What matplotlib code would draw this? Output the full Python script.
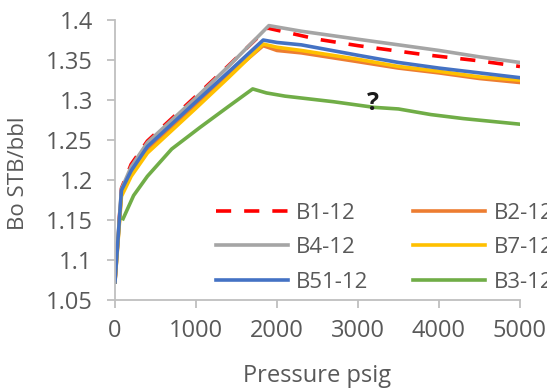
import matplotlib
matplotlib.use('Agg')
import matplotlib.pyplot as plt

plt.rcParams['font.family'] = ['Open Sans', 'DejaVu Sans']

# formation volume factor vs pressure for each sample
p_b1 = [0, 80, 200, 400, 700, 1000, 1400, 1750, 1880, 2500, 3000, 3800, 4500, 5000]
bo_b1 = [1.075, 1.190, 1.220, 1.249, 1.277, 1.305, 1.343, 1.377, 1.390, 1.376, 1.368, 1.357, 1.349, 1.342]

p_b2 = [0, 80, 200, 400, 700, 1000, 1400, 1830, 2000, 2300, 3000, 3500, 4000, 4500, 5000]
bo_b2 = [1.073, 1.185, 1.209, 1.237, 1.265, 1.293, 1.331, 1.368, 1.362, 1.359, 1.348, 1.340, 1.334, 1.327, 1.322]

p_b4 = [0, 80, 200, 400, 700, 1000, 1400, 1900, 2300, 3000, 3500, 4000, 4500, 5000]
bo_b4 = [1.075, 1.189, 1.217, 1.247, 1.275, 1.303, 1.342, 1.393, 1.386, 1.376, 1.369, 1.362, 1.354, 1.347]

p_b7 = [0, 80, 200, 400, 700, 1000, 1400, 1830, 2000, 2300, 3000, 3500, 4000, 4500, 5000]
bo_b7 = [1.073, 1.180, 1.205, 1.234, 1.262, 1.290, 1.328, 1.370, 1.366, 1.362, 1.351, 1.342, 1.336, 1.329, 1.325]

p_b51 = [0, 80, 200, 400, 700, 1000, 1400, 1830, 2000, 2300, 3000, 3500, 4000, 4500, 5000]
bo_b51 = [1.073, 1.1875, 1.212, 1.242, 1.270, 1.298, 1.335, 1.375, 1.372, 1.369, 1.356, 1.347, 1.340, 1.334, 1.328]

p_b3 = [100, 230, 400, 700, 1050, 1400, 1700, 1870, 2100, 2700, 3200, 3500, 3900, 4300, 5000]
bo_b3 = [1.152, 1.181, 1.205, 1.239, 1.266, 1.292, 1.314, 1.309, 1.305, 1.298, 1.291, 1.289, 1.282, 1.277, 1.270]

series = [
    ('B1-12', p_b1, bo_b1, '#FF0000'),
    ('B2-12', p_b2, bo_b2, '#ED7D31'),
    ('B4-12', p_b4, bo_b4, '#A5A5A5'),
    ('B7-12', p_b7, bo_b7, '#FFC000'),
    ('B51-12', p_b51, bo_b51, '#4472C4'),
    ('B3-12', p_b3, bo_b3, '#70AD47'),
]

axis_grey = '#BFBFBF'
text_grey = '#595959'

fig = plt.figure(figsize=(5.47, 3.9), dpi=100)
ax = fig.add_axes([0.2102, 0.2295, 0.7404, 0.7192])

lines = {}
for name, p, bo, col in series:
    if name == 'B1-12':
        ln, = ax.plot(p, bo, color=col, lw=2.6, dashes=(4.2, 3.6), label=name)
    else:
        ln, = ax.plot(p, bo, color=col, lw=2.6, label=name)
    lines[name] = ln

ax.set_xlim(0, 5000)
ax.set_ylim(1.05, 1.4)
ax.set_xticks([0, 1000, 2000, 3000, 4000, 5000])
ax.set_yticks([1.05, 1.1, 1.15, 1.2, 1.25, 1.3, 1.35, 1.4])
ax.set_yticklabels(['1.05', '1.1', '1.15', '1.2', '1.25', '1.3', '1.35', '1.4'])

for s in ['top', 'right']:
    ax.spines[s].set_visible(False)
for s in ['left', 'bottom']:
    ax.spines[s].set_color(axis_grey)
    ax.spines[s].set_linewidth(1.3)
ax.tick_params(axis='both', colors=axis_grey, length=6, width=1.3, labelcolor=text_grey,
               labelsize=17)
ax.tick_params(axis='x', pad=7)
ax.tick_params(axis='y', pad=10)

ax.set_xlabel('Pressure psig', fontsize=17, color=text_grey, va='center')
ax.xaxis.set_label_coords(0.5, -0.268)
ax.set_ylabel('Bo STB/bbl', fontsize=16, color=text_grey, va='center')
ax.yaxis.set_label_coords(-0.237, 0.454)

ax.text(3183, 1.296, '?', fontsize=18, fontweight='bold', color='#1A1A1A',
        ha='center', va='center')

# legend filled row by row: matplotlib fills columns, so reorder
order = ['B1-12', 'B4-12', 'B51-12', 'B2-12', 'B7-12', 'B3-12']
ax.legend([lines[n] for n in order], order, ncol=2, loc='upper left',
          bbox_to_anchor=(216 / 547, 1 - 202.5 / 390),
          bbox_transform=fig.transFigure, frameon=False, fontsize=16,
          handlelength=3.24, handletextpad=0.36, columnspacing=2.03,
          labelspacing=0.61, borderpad=0, borderaxespad=0, labelcolor=text_grey)

fig.savefig('out.png', dpi=100)
